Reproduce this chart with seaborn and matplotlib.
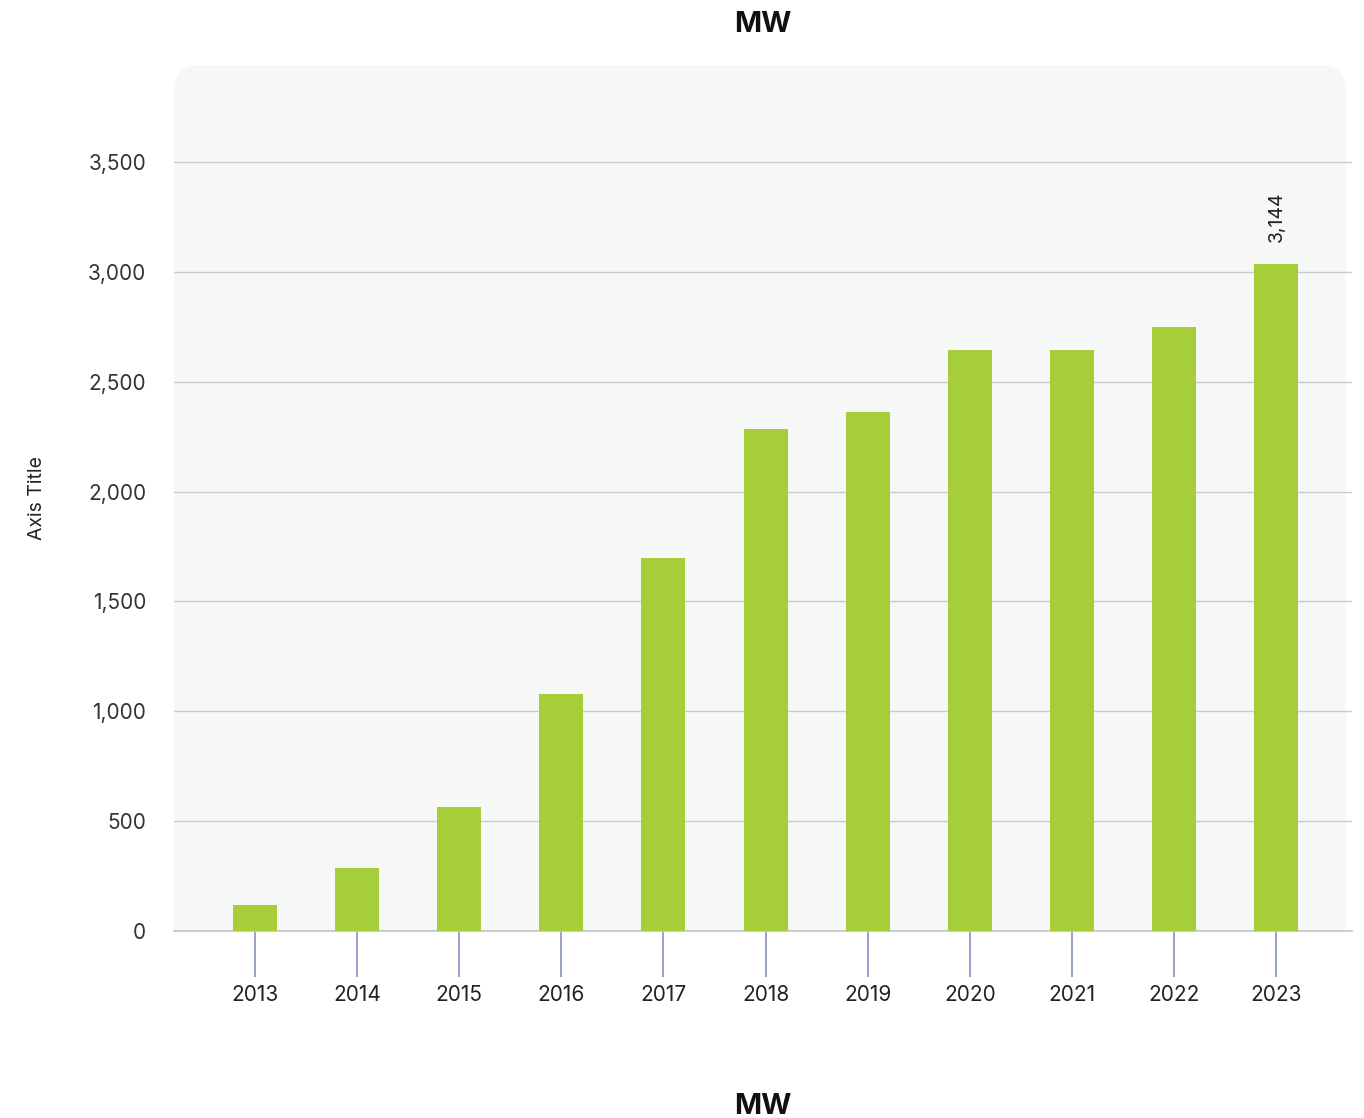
import matplotlib
matplotlib.use("Agg")
import matplotlib.pyplot as plt
from matplotlib.patches import FancyBboxPatch, Rectangle
import seaborn as sns
import pandas as pd

years = ["2013", "2014", "2015", "2016", "2017", "2018", "2019", "2020", "2021", "2022", "2023"]
capacity_mw = [118, 287, 564, 1079, 1698, 2285, 2362, 2645, 2645, 2749, 3036]
value_labels = ["", "", "", "", "", "", "", "", "", "", "3,144"]
y_ticks = [0, 500, 1000, 1500, 2000, 2500, 3000, 3500]
title = "MW"
y_title = "Axis Title"

sns.set_theme(style="white")
plt.rcParams["font.family"] = ["Inter", "DejaVu Sans"]

df = pd.DataFrame({"year": years, "mw": capacity_mw})

fig = plt.figure(figsize=(13.64, 11.18), dpi=100)
ax = fig.add_axes([174/1364, 1 - 931/1118, (1352-174)/1364, (931-65)/1118])
ax.patch.set_alpha(0)

panel_color = "#f6f8f7"
# rounded panel background
pb = FancyBboxPatch((0, 0), (1346-174)/1178, 1.0, boxstyle="round,pad=0,rounding_size=0.022",
                    transform=ax.transAxes, facecolor=panel_color, edgecolor="none", zorder=-3,
                    mutation_aspect=1178/866)
ax.add_patch(pb)
ax.add_patch(Rectangle((0, 0), (1346-174)/1178, 0.5, transform=ax.transAxes,
                       facecolor=panel_color, edgecolor="none", zorder=-3))

sns.barplot(data=df, x="year", y="mw", color="#a6ce39", width=0.43, saturation=1,
            edgecolor="none", linewidth=0, ax=ax, zorder=3)

ax.set_xlim(-0.79, 10.74)
ax.set_ylim(0, 3942)
ax.set_yticks(y_ticks)
ax.set_yticklabels([f"{t:,}" for t in y_ticks])
ax.yaxis.grid(True, color="#cbcbcb", linewidth=1)
ax.set_axisbelow(True)
for s in ["top", "right", "left"]:
    ax.spines[s].set_visible(False)
ax.spines["bottom"].set_color("#c4c4c4")
ax.spines["bottom"].set_linewidth(1.2)

ax.tick_params(axis="y", left=False, length=0, pad=20, labelsize=15, labelcolor="#333333")
ax.tick_params(axis="x", bottom=True, length=33, width=1.3, color="#8e9bc7", pad=6,
               labelsize=15, labelcolor="#222222", direction="out")

ax.set_xlabel("")
ax.set_ylabel(y_title, fontsize=14, color="#222222", labelpad=30)

ax.bar_label(ax.containers[0], labels=value_labels, rotation=90, padding=16,
             fontsize=14, color="#222222")

fig.text(763/1364, 1 - 25/1118, title, ha="center", va="center", fontsize=21,
         fontweight="bold", color="#111111")
fig.text(763/1364, 1 - 1106/1118, title, ha="center", va="center", fontsize=21,
         fontweight="bold", color="#111111")

fig.savefig("out.png", dpi=100)
